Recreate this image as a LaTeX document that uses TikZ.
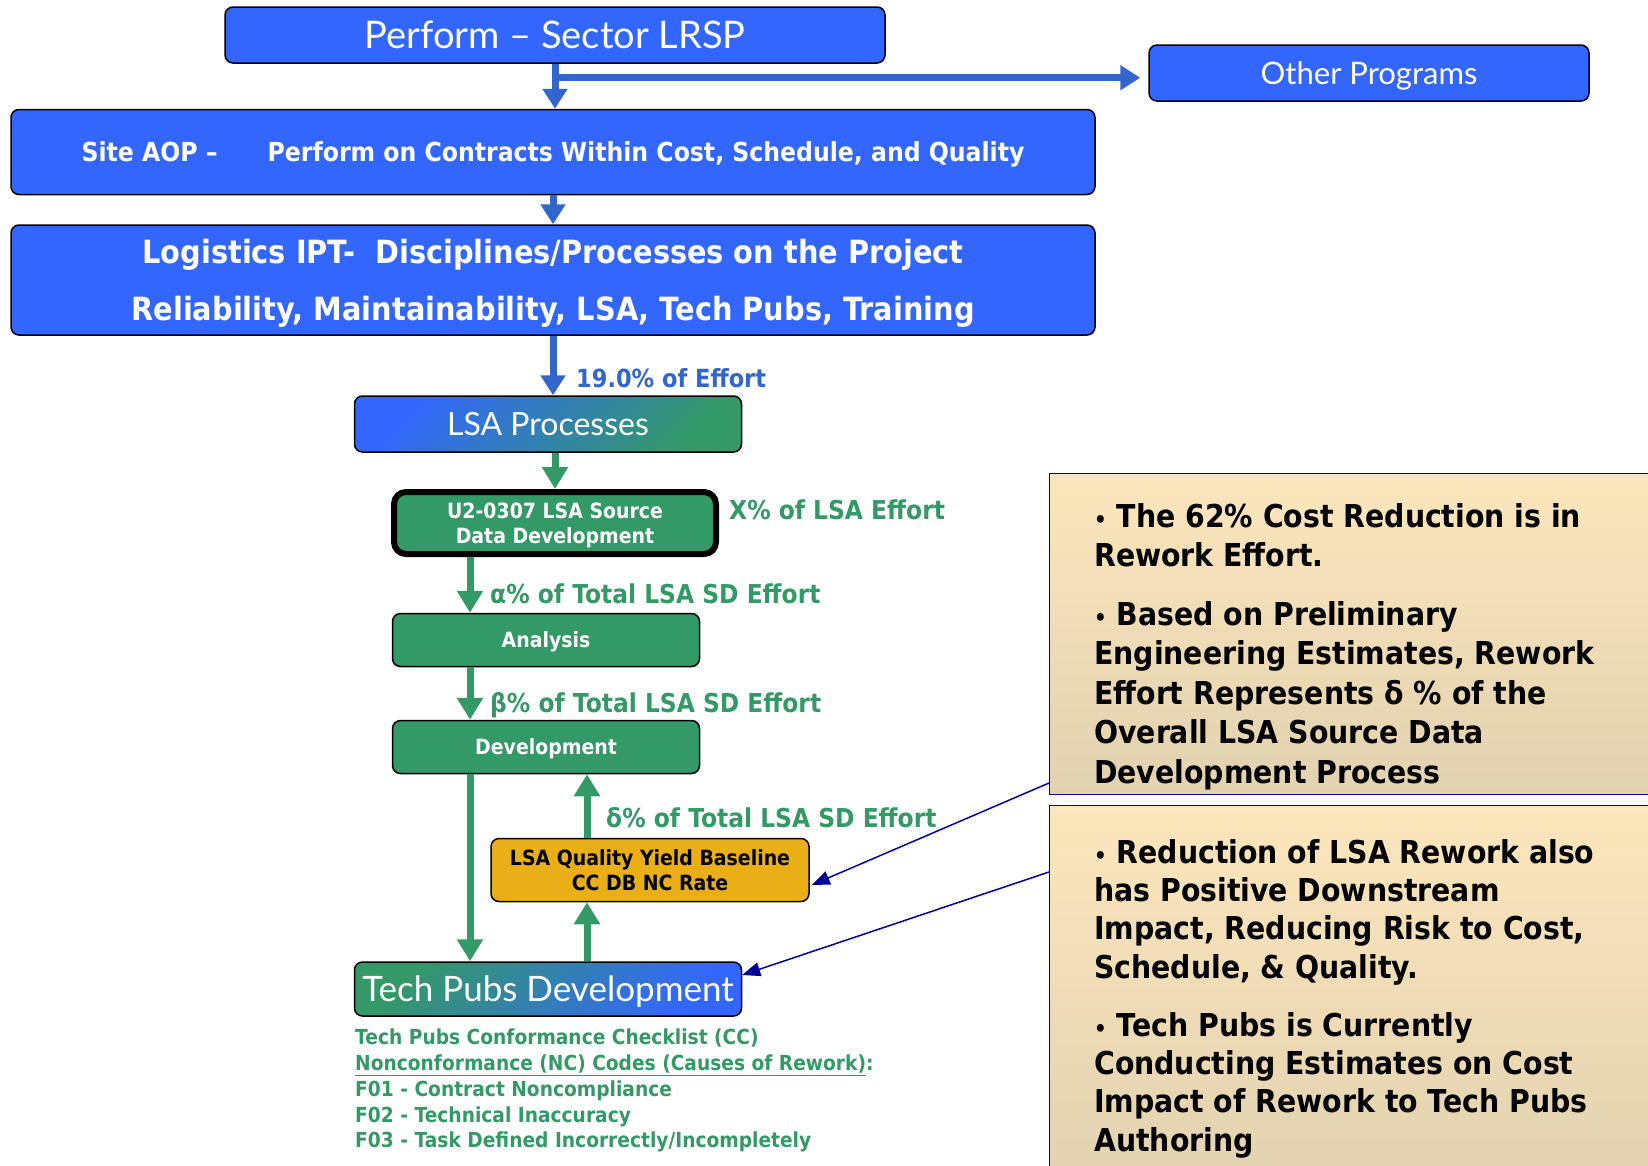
\documentclass[tikz,border=0pt]{standalone}
\usepackage{fontspec}
\setmainfont{DejaVu Sans}[FakeStretch=0.9]
\newfontfamily\gill{Lato}
\usetikzlibrary{positioning,arrows.meta,calc}
\definecolor{boxblue}{RGB}{51,102,255}
\definecolor{arrblue}{RGB}{51,102,204}
\definecolor{lsagreen}{RGB}{51,153,102}
\definecolor{qualgold}{RGB}{234,174,23}
\definecolor{navy}{RGB}{0,0,153}
\definecolor{notetop}{RGB}{252,230,188}
\definecolor{notebot}{RGB}{226,210,176}
\newcommand{\fs}[2]{\fontsize{#1}{#2}\selectfont}
\newcommand{\bul}{{\fs{22}{22}•}\ }

\begin{document}
\begin{tikzpicture}[x=1pt,y=-1pt,
  bbox/.style={draw=black,line width=1.5pt,rounded corners=8pt,fill=boxblue,text=white,align=center,inner sep=0pt,text depth=0pt},
  gbox/.style={draw=black,line width=1.5pt,rounded corners=8pt,fill=lsagreen,text=white,align=center,inner sep=0pt,text depth=0pt,font=\fs{21}{25}\bfseries},
  elab/.style={anchor=west,inner sep=0pt,text=lsagreen,font=\fs{26}{30}\bfseries},
  note/.style={draw=navy,line width=1.2pt,top color=notetop,bottom color=notebot,anchor=north west,inner sep=0pt},
  ntext/.style={anchor=north west,inner sep=0pt,align=left,font=\fs{31.5}{39.5}\bfseries},
  barr/.style={draw=arrblue,line width=7pt,-{Triangle[length=20pt,width=24pt]}},
  garr/.style={draw=lsagreen,line width=7pt,-{Triangle[length=22pt,width=25pt]}},
  narr/.style={draw=navy,line width=1.5pt,-{Triangle[length=18pt,width=14pt]}}]
\useasboundingbox (0,0) rectangle (1648,1165);
\clip (0,0) rectangle (1648,1165);
% program level
\node[bbox,minimum width=660pt,minimum height=56pt,text height=27pt,font=\gill\fs{38}{44}] (lrsp) at (555,35) {Perform – Sector LRSP};
\node[bbox,minimum width=440pt,minimum height=56pt,text height=22pt,font=\gill\fs{31}{36}] (other) at (1369,73) {Other Programs};
\node[bbox,minimum width=1084pt,minimum height=85pt,font=\fs{26.2}{30}\bfseries] (site) at (553,152) {Site AOP –\hspace{50pt}Perform on Contracts Within Cost, Schedule, and Quality};
\node[bbox,minimum width=1084pt,minimum height=110pt,font=\fs{32}{57}\bfseries] (logi) at (553,280) {Logistics IPT-\ \ Disciplines/Processes on the Project\\Reliability, Maintainability, LSA, Tech Pubs, Training};
% LSA spine
\node[bbox,top color=boxblue,bottom color=lsagreen,shading angle=45,minimum width=387pt,minimum height=56pt,text height=23pt,font=\gill\fs{32}{36}] (lsap) at (548,424) {LSA Processes};
\node[gbox,line width=6pt,rounded corners=12pt,minimum width=322pt,minimum height=62pt] (u2) at (555,523) {U2-0307 LSA Source\\Data Development};
\node[gbox,minimum width=307pt,minimum height=53pt] (ana) at (546,640) {Analysis};
\node[gbox,minimum width=307pt,minimum height=53pt] (dev) at (546,747) {Development};
\node[gbox,fill=qualgold,text=black,minimum width=318pt,minimum height=63pt] (qual) at (650,870) {LSA Quality Yield Baseline\\CC DB NC Rate};
\node[bbox,top color=lsagreen,bottom color=boxblue,shading angle=45,minimum width=387pt,minimum height=54pt,text height=25pt,font=\gill\fs{35}{42}] (tech) at (548,989) {Tech Pubs Development};
% effort labels
\node[elab,text=arrblue,font=\fs{25}{30}\bfseries] (eff) at (576,378) {19.0\% of Effort};
\node[elab] (xeff) at (729,510) {X\% of LSA Effort};
\node[elab] (aeff) at (490,594) {α\% of Total LSA SD Effort};
\node[elab] (beff) at (490,705) {β\% of Total LSA SD Effort};
\node[elab] (deff) at (606,818) {δ\% of Total LSA SD Effort};
\node[anchor=north west,inner sep=0pt,align=left,text=lsagreen,font=\fs{20.7}{25.7}\bfseries] (nc) at (355,1029) {Tech Pubs Conformance Checklist (CC)\\\underline{Nonconformance (NC) Codes (Causes of Rework)}:\\F01 - Contract Noncompliance\\F02 - Technical Inaccuracy\\F03 - Task Defined Incorrectly/Incompletely};
% notes
\node[note,minimum width=640pt,minimum height=321pt] (note1) at (1049,473) {};
\node[ntext] (n1txt) at (1094,503) {\bul The 62\% Cost Reduction is in\\Rework Effort.\\[19pt]\bul Based on Preliminary\\Engineering Estimates, Rework\\Effort Represents δ \% of the\\Overall LSA Source Data\\Development Process};
\node[note,minimum width=640pt,minimum height=380pt] (note2) at (1049,805) {};
\node[ntext,font=\fs{31.5}{38.3}\bfseries] (n2txt) at (1094,839) {\bul Reduction of LSA Rework also\\has Positive Downstream\\Impact, Reducing Risk to Cost,\\Schedule, \& Quality.\\[20pt]\bul Tech Pubs is Currently\\Conducting Estimates on Cost\\Impact of Rework to Tech Pubs\\Authoring};
% connectors
\coordinate (split) at ($(lrsp.south)+(0,14)$);
\coordinate (lx) at (470,0);
\coordinate (rx) at (587,0);
\coordinate (t1) at (1049,783);
\coordinate (t2) at (1049,872);
\draw[barr] (lrsp.south) -- (lrsp.south |- site.north);
\draw[barr,shorten >=8pt] (split) -- (split -| other.west);
\draw[barr] (site.south) -- (logi.north);
\draw[barr] (logi.south) -- (logi.south |- lsap.north);
\draw[garr] (lsap.south -| u2.north) -- (u2.north);
\draw[garr] (u2.south -| lx) -- (ana.north -| lx);
\draw[garr] (ana.south -| lx) -- (dev.north -| lx);
\draw[garr] (dev.south -| lx) -- (tech.north -| lx);
\draw[garr] (tech.north -| rx) -- (qual.south -| rx);
\draw[garr] (qual.north -| rx) -- (dev.south -| rx);
\draw[narr] (t1) -- ($(qual.east)+(2,15)$);
\draw[narr] (t2) -- ($(tech.east)+(0,-14)$);
\end{tikzpicture}
\end{document}
